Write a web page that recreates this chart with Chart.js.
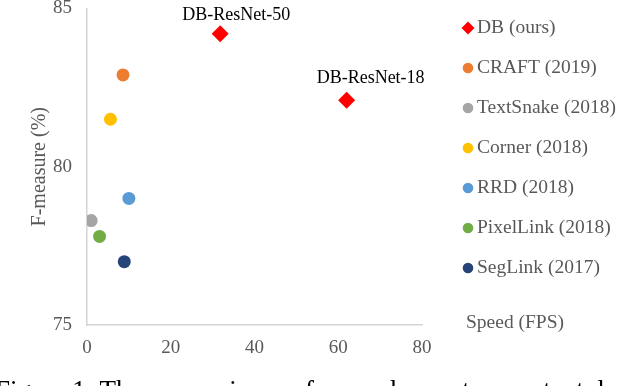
<!DOCTYPE html>
<html>
<head>
<meta charset="utf-8">
<script src="https://cdn.jsdelivr.net/npm/chart.js@4.4.1/dist/chart.umd.min.js"></script>
<style>
    html, body { margin: 0; padding: 0; background: #fff; overflow: hidden; }
    #wrap { position: relative; width: 618px; height: 386px; overflow: hidden; }
    #chart { position: absolute; left: 0; top: 0; }
    #caption {
        position: absolute; left: -5px; top: 377px; white-space: nowrap;
        font: 27px/27px 'Liberation Serif', 'Times New Roman', serif; color: #000;
    }
</style>
</head>
<body>
<div id="wrap">
    <canvas id="chart" width="618" height="386"></canvas>
    <div id="caption">Figure 1: The comparisons of several recent scene text detection methods</div>
</div>
<script>
const methods = ['DB (ours)', 'CRAFT (2019)', 'TextSnake (2018)', 'Corner (2018)', 'RRD (2018)', 'PixelLink (2018)', 'SegLink (2017)'];
const colors = ['#ff0000', '#ed7d31', '#a5a5a5', '#ffc000', '#5b9bd5', '#70ad47', '#264478'];

// DB has two backbones, the others one point each
const dbNames = ['DB-ResNet-50', 'DB-ResNet-18'];
const dbSpeed = [31.8, 62.0];
const dbFmeasure = [84.2, 82.1];

const otherSpeed = [8.6, 1.0, 5.6, 10.0, 3.0, 8.9];
const otherFmeasure = [82.9, 78.3, 81.5, 79.0, 77.8, 77.0];

const xTicks = [0, 20, 40, 60, 80];
const yTicks = [75, 80, 85];

const serif = "'Liberation Serif', 'Times New Roman', serif";
const grey = '#595959';

const datasets = methods.map((name, i) => {
    const isDb = i === 0;
    const data = isDb
        ? dbSpeed.map((x, j) => ({ x, y: dbFmeasure[j] }))
        : [{ x: otherSpeed[i - 1], y: otherFmeasure[i - 1] }];
    return {
        label: name,
        data,
        pointStyle: isDb ? 'rectRot' : 'circle',
        pointRadius: isDb ? 8.5 : 6.5,
        backgroundColor: colors[i],
        borderColor: colors[i],
        borderWidth: 0,
    };
});

// legend, point names and the x title sit outside the plot, drawn by hand
const sidePlugin = {
    id: 'side',
    afterDraw(chart) {
        const ctx = chart.ctx;
        const xs = chart.scales.x;
        const ys = chart.scales.y;
        ctx.save();

        ctx.fillStyle = '#000';
        ctx.font = '18px ' + serif;
        ctx.textAlign = 'center';
        ctx.textBaseline = 'middle';
        const shift = [[16, -19], [24, -22]];
        dbNames.forEach((n, j) => {
            ctx.fillText(n, xs.getPixelForValue(dbSpeed[j]) + shift[j][0], ys.getPixelForValue(dbFmeasure[j]) + shift[j][1]);
        });

        ctx.font = '19.5px ' + serif;
        ctx.textAlign = 'left';
        chart.data.datasets.forEach((ds, i) => {
            const y = 28 + i * 40;
            ctx.fillStyle = ds.backgroundColor;
            Chart.helpers.drawPoint(ctx, {
                pointStyle: ds.pointStyle,
                radius: ds.pointStyle === 'rectRot' ? 6.5 : 5.3,
                rotation: 0,
                borderWidth: 0,
            }, 468, y);
            ctx.fillStyle = grey;
            ctx.fillText(ds.label, 477, y);
        });

        ctx.fillText('Speed (FPS)', 466, 323);
        ctx.restore();
    },
};

new Chart(document.getElementById('chart'), {
    type: 'scatter',
    data: { datasets },
    options: {
        responsive: false,
        animation: false,
        layout: { padding: { left: 0, right: 196, top: 7, bottom: 0 } },
        plugins: { legend: { display: false }, tooltip: { enabled: false } },
        scales: {
            x: {
                min: 0,
                max: 80,
                afterBuildTicks: (s) => { s.ticks = xTicks.map((v) => ({ value: v })); },
                afterFit: (s) => { s.height = 61; s.paddingLeft = 0; s.paddingRight = 0; },
                grid: { display: false, drawTicks: false },
                border: { display: true, color: '#d4d4d4', width: 1.5 },
                ticks: { color: grey, padding: 12, font: { family: serif, size: 19 } },
            },
            y: {
                min: 75,
                max: 85,
                afterBuildTicks: (s) => { s.ticks = yTicks.map((v) => ({ value: v })); },
                afterFit: (s) => { s.width = 87; s.paddingTop = 0; s.paddingBottom = 0; },
                grid: { display: false, drawTicks: false },
                border: { display: true, color: '#d4d4d4', width: 1.5 },
                ticks: { color: grey, padding: 15, font: { family: serif, size: 19 } },
                title: {
                    display: true,
                    text: 'F-measure (%)',
                    color: grey,
                    padding: { top: 29.5, bottom: 0 },
                    font: { family: serif, size: 20, lineHeight: 1 },
                },
            },
        },
    },
    plugins: [sidePlugin],
});
</script>
</body>
</html>
